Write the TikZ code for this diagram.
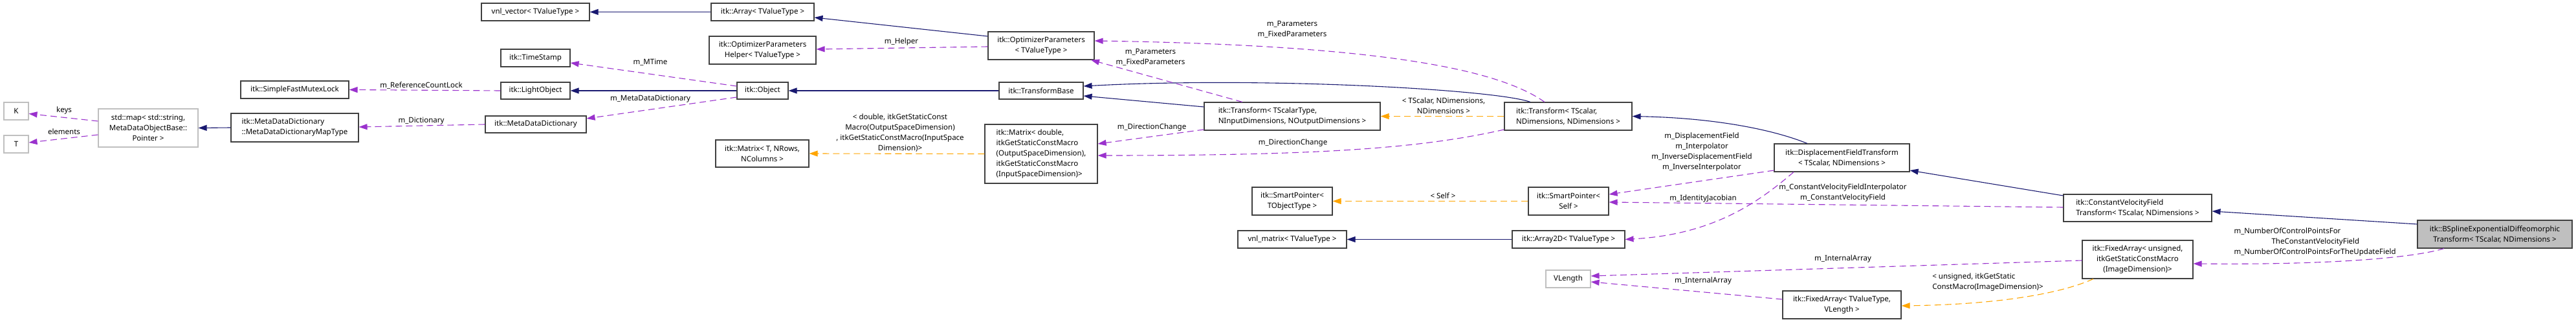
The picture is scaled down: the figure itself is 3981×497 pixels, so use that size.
\documentclass[tikz,border=0pt]{standalone}
\usepackage{fontspec}
\setmainfont{Noto Sans}
\usepackage{xcolor}
\usepackage{tikz}
\usetikzlibrary{arrows.meta}
\definecolor{inhblue}{HTML}{191970}
\definecolor{usepurple}{HTML}{9A32CD}
\definecolor{tplorange}{HTML}{FFA500}
\definecolor{extgray}{HTML}{BFBFBF}
\newcommand{\dgfont}{\fontsize{11.5}{16}\selectfont}

\begin{document}
\begin{tikzpicture}[
    x=1pt, y=-1pt,
    cls/.style={draw=black!75, fill=white, line width=1.1pt, inner sep=1pt, align=center, font=\dgfont},
    ext/.style={cls, draw=extgray},
    cur/.style={cls, fill=extgray},
    lbl/.style={inner sep=0pt, align=center, text=black, font=\dgfont},
    inh/.style={-{Triangle[length=13pt,width=9pt]}, color=inhblue, line width=1.1pt},
    memb/.style={-{Triangle[length=13pt,width=9pt]}, color=usepurple, dash pattern=on 10pt off 6pt, line width=1.1pt},
    tpl/.style={-{Triangle[length=13pt,width=9pt]}, color=tplorange, dash pattern=on 10pt off 6pt, line width=1.1pt}
]
    \useasboundingbox (0,0) rectangle (3981,497);

    \node[ext, minimum width=38pt, minimum height=27pt] (keyK) at (25,171.5) {K};
    \node[ext, minimum width=38pt, minimum height=27pt] (elemT) at (25,222.5) {T};
    \node[ext, minimum width=154pt, minimum height=59pt] (stdmap) at (229,197.5) {std::map< std::string,\\MetaDataObjectBase::\\Pointer >};
    \node[cls, align=left, minimum width=197pt, minimum height=44pt] (mapType) at (455.5,197) {itk::MetaDataDictionary\\::MetaDataDictionaryMapType};
    \node[cls, minimum width=167pt, minimum height=27pt] (mutexLock) at (455.5,138.5) {itk::SimpleFastMutexLock};
    \node[cls, minimum width=167pt, minimum height=27pt] (vnlVector) at (827.5,18.5) {vnl\_vector< TValueType >};
    \node[cls, minimum width=107pt, minimum height=27pt] (timeStamp) at (827.5,89.5) {itk::TimeStamp};
    \node[cls, minimum width=107pt, minimum height=26pt] (lightObj) at (827.5,140) {itk::LightObject};
    \node[cls, minimum width=156pt, minimum height=26pt] (metaDict) at (828,192) {itk::MetaDataDictionary};
    \node[cls, minimum width=159pt, minimum height=27pt] (itkArray) at (1178.5,18.5) {itk::Array< TValueType >};
    \node[cls, minimum width=165pt, minimum height=43pt] (optHelper) at (1178.5,77.5) {itk::OptimizerParameters\\Helper< TValueType >};
    \node[cls, minimum width=79pt, minimum height=26pt] (itkObj) at (1178.5,140) {itk::Object};
    \node[cls, minimum width=144pt, minimum height=42pt] (matrixT) at (1178,237) {itk::Matrix< T, NRows,\\NColumns >};
    \node[cls, minimum width=164pt, minimum height=43pt] (optParams) at (1609,70.5) {itk::OptimizerParameters\\< TValueType >};
    \node[cls, minimum width=130pt, minimum height=26pt] (transBase) at (1609,140) {itk::TransformBase};
    \node[cls, align=left, minimum width=174pt, minimum height=91pt] (matrixD) at (1609,237.5) {itk::Matrix< double,\\itkGetStaticConstMacro\\(OutputSpaceDimension),\\itkGetStaticConstMacro\\(InputSpaceDimension)>};
    \node[cls, align=left, minimum width=272pt, minimum height=43pt] (transGen) at (1997,179.5) {itk::Transform< TScalarType,\\NInputDimensions, NOutputDimensions >};
    \node[cls, minimum width=124pt, minimum height=43pt] (smartGen) at (1997,310.5) {itk::SmartPointer<\\TObjectType >};
    \node[cls, minimum width=168pt, minimum height=27pt] (vnlMatrix) at (1997,369.5) {vnl\_matrix< TValueType >};
    \node[cls, align=left, minimum width=197pt, minimum height=43pt] (transInst) at (2423.5,179.5) {itk::Transform< TScalar,\\NDimensions, NDimensions >};
    \node[cls, minimum width=124pt, minimum height=43pt] (smartSelf) at (2424,310.5) {itk::SmartPointer<\\Self >};
    \node[cls, minimum width=174pt, minimum height=27pt] (array2D) at (2424,369.5) {itk::Array2D< TValueType >};
    \node[ext, minimum width=69pt, minimum height=27pt] (vLength) at (2423.5,430.5) {VLength};
    \node[cls, minimum width=209pt, minimum height=43pt] (dispField) at (2846.5,243.5) {itk::DisplacementFieldTransform\\< TScalar, NDimensions >};
    \node[cls, minimum width=183pt, minimum height=43pt] (fixedVal) at (2846.5,470.5) {itk::FixedArray< TValueType,\\VLength >};
    \node[cls, align=left, minimum width=229pt, minimum height=42pt] (constVel) at (3303.5,321) {itk::ConstantVelocityField\\Transform< TScalar, NDimensions >};
    \node[cls, minimum width=171pt, minimum height=59pt] (fixedUns) at (3303.5,400.5) {itk::FixedArray< unsigned,\\itkGetStaticConstMacro\\(ImageDimension)>};
    \node[cur, minimum width=239pt, minimum height=43pt] (bsplineExp) at (3855.5,361.5) {itk::BSplineExponentialDiffeomorphic\\Transform< TScalar, NDimensions >};

    \draw[memb] ([yshift=10.5pt]stdmap.west) -- ([yshift=-4pt]keyK.east) node[lbl] at (99,171) {keys};
    \draw[memb] ([yshift=-10.5pt]stdmap.west) -- ([yshift=2.5pt]elemT.east) node[lbl] at (99,203) {elements};
    \draw[inh] (mapType.west) -- (stdmap.east);
    \draw[memb] (lightObj.west) -- (mutexLock.east) node[lbl] at (651,132) {m\_ReferenceCountLock};
    \draw[memb] (metaDict.west) -- ([yshift=1pt]mapType.east) node[lbl] at (651,187) {m\_Dictionary};
    \draw[memb] ([yshift=7pt]itkObj.west) -- ([yshift=-7.5pt]timeStamp.east) node[lbl] at (1005,96) {m\_MTime};
    \draw[inh] (itkObj.west) -- (lightObj.east);
    \draw[memb] ([yshift=-10pt]itkObj.west) -- ([yshift=9pt]metaDict.east) node[lbl] at (1005,153) {m\_MetaDataDictionary};
    \draw[inh] (itkArray.west) -- (vnlVector.east);
    \draw[inh] ([yshift=14.5pt]optParams.west) -- ([yshift=-8.5pt]itkArray.east);
    \draw[memb] ([yshift=-1.5pt]optParams.west) -- ([yshift=1.5pt]optHelper.east) node[lbl] at (1393,65) {m\_Helper};
    \draw[inh] (transBase.west) -- (itkObj.east);
    \draw[inh] ([yshift=14.5pt]transGen.west) -- ([yshift=-8pt]transBase.east);
    \draw[inh] ([xshift=-58.5pt]transInst.north) .. controls (2310,138) and (1950,118) .. ([yshift=7pt]transBase.east);
    \draw[memb] ([xshift=-77pt]transGen.north) -- ([xshift=77pt]optParams.south) node[lbl] at (1778,88) {m\_Parameters\\m\_FixedParameters};
    \draw[memb] ([xshift=-36.5pt]transInst.north) .. controls (2320,110) and (2150,70) .. ([yshift=7.5pt]optParams.east) node[lbl] at (1997,45) {m\_Parameters\\m\_FixedParameters};
    \draw[memb] ([yshift=-20.5pt]transGen.west) -- ([yshift=15.5pt]matrixD.east) node[lbl] at (1780,197) {m\_DirectionChange};
    \draw[memb] ([yshift=-20.5pt]transInst.west) .. controls (2200,228) and (2050,240) .. ([yshift=-2.5pt]matrixD.east) node[lbl] at (1998,221) {m\_DirectionChange};
    \draw[tpl] (matrixD.west) -- (matrixT.east) node[lbl] at (1391,205) {< double, itkGetStaticConst\\Macro(OutputSpaceDimension)\\, itkGetStaticConstMacro(InputSpace\\Dimension)>};
    \draw[tpl] (transInst.west) -- (transGen.east) node[lbl] at (2231,163) {< TScalar, NDimensions,\\NDimensions >};
    \draw[inh] ([xshift=-53.5pt]dispField.north) .. controls (2740,200) and (2650,182) .. (transInst.east);
    \draw[memb] ([yshift=-19.5pt]dispField.west) -- ([yshift=10.5pt]smartSelf.east) node[lbl] at (2630,235) {m\_DisplacementField\\m\_Interpolator\\m\_InverseDisplacementField\\m\_InverseInterpolator};
    \draw[memb] ([yshift=1pt]constVel.west) -- ([yshift=-1.5pt]smartSelf.east) node[lbl] at (2848,298) {m\_ConstantVelocityFieldInterpolator\\m\_ConstantVelocityField};
    \draw[memb] ([xshift=-74.5pt]dispField.south) .. controls (2720,310) and (2650,362) .. (array2D.east) node[lbl] at (2632,307) {m\_IdentityJacobian};
    \draw[tpl] (smartSelf.west) -- (smartGen.east) node[lbl] at (2230,302) {< Self >};
    \draw[inh] (array2D.west) -- (vnlMatrix.east);
    \draw[inh] ([yshift=19pt]constVel.west) -- ([yshift=-19.5pt]dispField.east);
    \draw[inh] ([yshift=15.5pt]bsplineExp.west) -- ([yshift=-5pt]constVel.east);
    \draw[memb] ([xshift=-78.5pt]bsplineExp.south) .. controls (3730,398) and (3600,409) .. ([yshift=-6.5pt]fixedUns.east) node[lbl, align=left] at (3577.5,373) {m\_NumberOfControlPointsFor\\\hspace*{58pt}TheConstantVelocityField\\m\_NumberOfControlPointsForTheUpdateField};
    \draw[memb] ([yshift=-1.5pt]fixedUns.west) -- ([yshift=4.5pt]vLength.east) node[lbl] at (2848,400) {m\_InternalArray};
    \draw[memb] ([yshift=8.5pt]fixedVal.west) -- ([yshift=-4.5pt]vLength.east) node[lbl] at (2632,434) {m\_InternalArray};
    \draw[tpl] ([xshift=-68.5pt]fixedUns.south) .. controls (3180,455) and (3080,470) .. ([yshift=-1.5pt]fixedVal.east) node[lbl, align=left] at (3072,436) {< unsigned, itkGetStatic\\ConstMacro(ImageDimension)>};
\end{tikzpicture}
\end{document}
